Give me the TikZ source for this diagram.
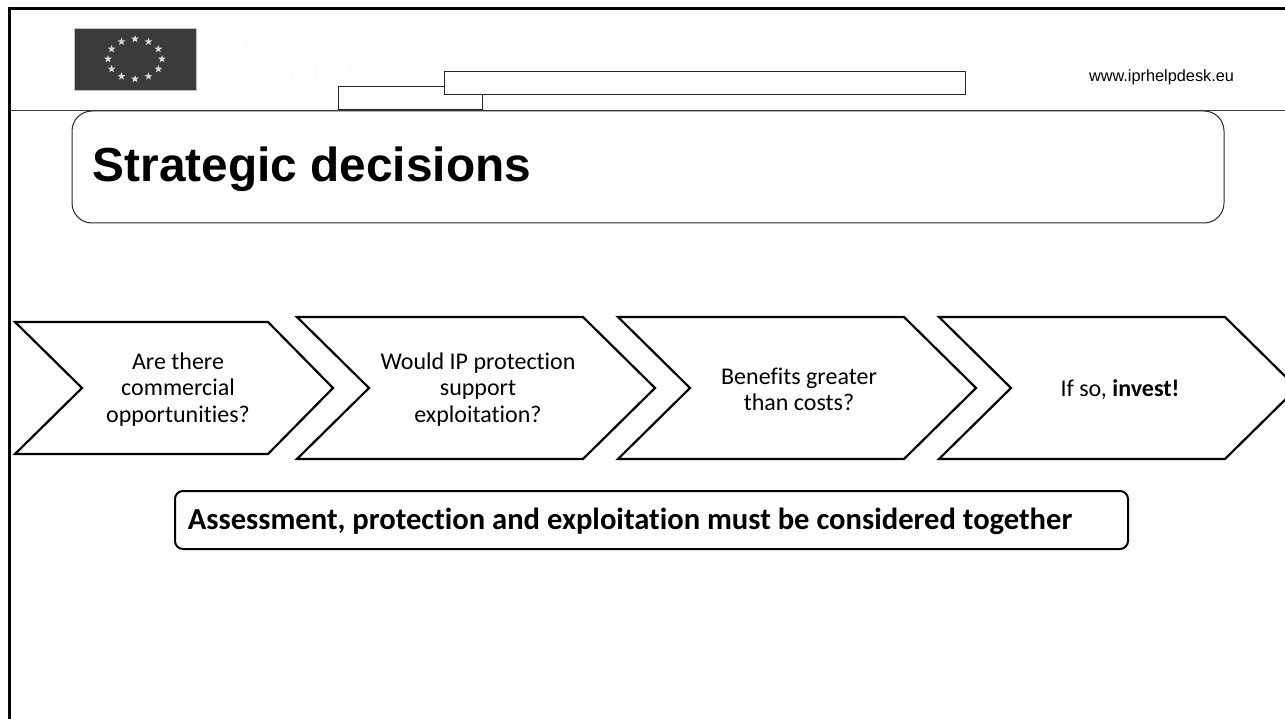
\documentclass[tikz,border=0pt]{standalone}
\usepackage{fontspec}
\setmainfont[Ligatures=NoCommon]{Carlito}
\newfontfamily\headfont{Liberation Sans}
\usetikzlibrary{shapes.geometric}
\tikzset{
    chevron/.style={draw=black, line width=2.2pt, line join=miter, fill=white},
    label/.style={align=center, font=\fontsize{24}{26.5}\selectfont, inner sep=0pt},
    headbox/.style={draw=black!85, line width=1pt, fill=white},
    faint/.style={text=black!1, anchor=base west, font=\headfont\fontsize{27}{30}\selectfont, inner sep=0pt},
    estar/.style={draw=none, fill=black!15, star, star points=5, star point ratio=2.4, minimum size=8pt, inner sep=0pt},
}
\begin{document}
\begin{tikzpicture}[x=1pt, y=-1pt]
    \useasboundingbox (0,0) rectangle (1285,719);
    \clip (0,0) rectangle (1285,719);
    % frame and header line
    \draw[line width=3pt] (9.5,719) -- (9.5,8.5) -- (1285,8.5);
    \draw[line width=1pt, draw=black!75] (9.5,110.5) -- (1285,110.5);

    % flag
    \node[draw=black!25, fill=black!77, line width=.7pt, minimum width=122pt, minimum height=62pt, inner sep=0pt] (flag) at (135,59) {};
    \foreach \i in {1,...,12}{
        \node[estar] (star\i) at ({135+27*cos(30*\i)},{59-20*sin(30*\i)}) {};
    }
    \node[faint] (org1) at (217,55) {European};
    \node[faint] (org2) at (215,83) {IP Helpdesk};

    % boxes in the header
    \node[headbox, minimum width=144pt, minimum height=23pt, inner sep=0pt] (lowbox) at (410,98.5) {};
    \node[headbox, minimum width=521pt, minimum height=23pt, inner sep=0pt] (topbox) at (704.5,83.5) {};
    \node[font=\headfont\fontsize{16.3}{18}\selectfont, anchor=base, inner sep=0pt] (site) at (1161.5,82) {www.iprhelpdesk.eu};

    % title
    \node[headbox, rounded corners=20pt, minimum width=1152pt, minimum height=112pt, inner sep=0pt] (titlebox) at (648,167) {};
    \node[font=\headfont\bfseries\fontsize{47.8}{52}\selectfont, anchor=base, inner sep=0pt] (title) at (312,182) {Strategic decisions};

    % chevrons
    \draw[chevron] (15,322) -- (268,322) -- (333,388) -- (268,454) -- (15,454) -- (82,388) -- cycle;
    \node[label] (step1) at (178,389.5) {Are there\\commercial\\opportunities?};
    \foreach \x/\name/\txt in {297/step2/{Would IP protection\\support\\exploitation?},
                               618/step3/{Benefits greater\\than costs?},
                               939/step4/{If so, \textbf{invest!}}}{
        \draw[chevron] (\x,317) -- (\x+286,317) -- (\x+358,388) -- (\x+286,459) -- (\x,459) -- (\x+72,388) -- cycle;
        \node[label] (\name) at (\x+181,389.5) {\txt};
    }

    % bottom box
    \node[draw=black, line width=2pt, rounded corners=8pt, fill=white, minimum width=953pt, minimum height=58pt, inner sep=0pt] (notebox) at (651.5,520) {};
    \node[font=\bfseries\fontsize{30.6}{34}\selectfont, inner sep=0pt] (note) at (630,521) {Assessment, protection and exploitation must be considered together};
\end{tikzpicture}
\end{document}
